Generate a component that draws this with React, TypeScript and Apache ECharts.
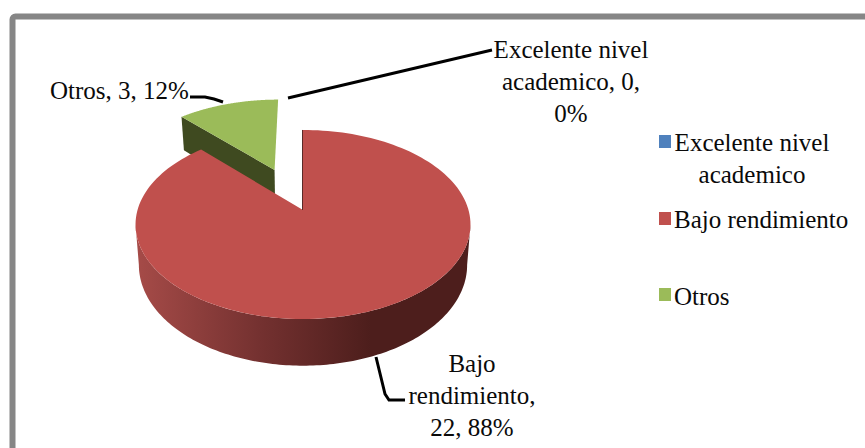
import React, { useEffect, useRef } from "react";
import * as echarts from "echarts";

const categories = ["Excelente nivel academico", "Bajo rendimiento", "Otros"];
const values = [0, 22, 3];
const colors = ["#4f81bd", "#c0504d", "#9bbb59"];
const sideColors = ["#2f4d71", "#5a2a28", "#3f4a20"];
const explode = [0, 0, 0.5];
const labelTexts = ["Excelente nivel\nacademico, 0,\n0%", "Bajo\nrendimiento,\n22, 88%", "Otros, 3, 12%"];
const legendTexts = ["Excelente nivel\nacademico", "Bajo rendimiento", "Otros"];

const FONT = '"Liberation Serif", "Times New Roman", serif';
const CX = 303;
const CY = 210;
const RX = 165.5;
const RY = 92.3;
const K = 0.1534;
const DEPTH = 39.5;
const BOTTOM_SCALE = 0.98;

type P = [number, number];

// perspective projection of the pie's disc (u right, v away from the viewer)
function topPoint(u: number, v: number): P {
  const w = 1 + K * v;
  return [CX + (RX * u) / w, CY - (RY * v) / w];
}
function bottomPoint(u: number, v: number): P {
  const w = 1 + K * v;
  return [CX + (BOTTOM_SCALE * RX * u) / w, CY - (RY * v) / w + DEPTH / w];
}

const total = values.reduce((a, b) => a + b, 0);
const TAU = Math.PI * 2;

function sliceAngles(i: number): [number, number] {
  let start = 0;
  for (let k = 0; k < i; k++) start += values[k];
  return [(start / total) * TAU, ((start + values[i]) / total) * TAU];
}

function renderSlice(params: any) {
  const i = params.dataIndex;
  if (!values[i]) return { type: "group", children: [] };
  const [a0, a1] = sliceAngles(i);
  const mid = (a0 + a1) / 2;
  const ou = explode[i] * Math.sin(mid);
  const ov = explode[i] * Math.cos(mid);
  const disc = (a: number): P => [ou + Math.sin(a), ov + Math.cos(a)];
  const STEPS = 160;
  const rim: P[] = [];
  for (let s = 0; s <= STEPS; s++) {
    const d = disc(a0 + ((a1 - a0) * s) / STEPS);
    rim.push(topPoint(d[0], d[1]));
  }
  const top: P[] = [topPoint(ou, ov), ...rim];
  const base = i === 1 ? 3 : 0;
  const children: any[] = [];
  const frontStart = Math.acos(-K);
  const frontEnd = TAU - frontStart;
  const fs = Math.max(a0, frontStart);
  const fe = Math.min(a1, frontEnd);
  if (fe > fs) {
    const upper: P[] = [];
    const lower: P[] = [];
    for (let s = 0; s <= STEPS; s++) {
      const a = fs + ((fe - fs) * s) / STEPS;
      const d = disc(a);
      upper.push(topPoint(d[0], d[1]));
      lower.unshift(bottomPoint(d[0], d[1]));
    }
    children.push({
      type: "polygon",
      z2: base + 1,
      shape: { points: [...upper, ...lower] },
      style: {
        fill: new echarts.graphic.LinearGradient(
          136, 0, 471, 0,
          [
            { offset: 0, color: "#a64b48" },
            { offset: 0.37, color: "#743130" },
            { offset: 0.7, color: "#4d1e1c" },
            { offset: 1, color: "#4d1e1c" },
          ],
          true
        ),
      },
    });
  }
  if (i === 1) {
    // cut face at the start of the slice, seen almost edge on
    const e = disc(a0);
    children.push({
      type: "line",
      z2: base + 3,
      shape: {
        x1: topPoint(ou, ov)[0] - 0.5,
        y1: topPoint(ou, ov)[1],
        x2: topPoint(e[0], e[1])[0] - 0.5,
        y2: topPoint(e[0], e[1])[1],
      },
      style: { stroke: sideColors[i], lineWidth: 1 },
    });
  } else {
    // cut face at the end of the slice, facing the viewer
    const e = disc(a0);
    const q0 = topPoint(ou, ov);
    const q1 = topPoint(e[0], e[1]);
    const q2 = bottomPoint(e[0], e[1]);
    const q3 = bottomPoint(ou, ov);
    children.push({
      type: "polygon",
      z2: base + 1,
      shape: { points: [q0, q1, q2, q3] },
      style: { fill: sideColors[i] },
    });
  }
  children.push({
    type: "polygon",
    z2: base + 2,
    shape: { points: top },
    style: { fill: colors[i] },
  });
  return { type: "group", children };
}

const labelPos: { x: number; y: number; align: string }[] = [
  { x: 571, y: 33, align: "center" },
  { x: 472, y: 347, align: "center" },
  { x: 50, y: 74, align: "left" },
];
const leaders: P[][] = [
  [[288, 98], [492, 50]],
  [[376, 357], [385, 394], [389, 400], [405, 400]],
  [[190, 97], [205, 97], [214, 99], [223, 102]],
];
const legendY = [135, 212, 288];

export default function App() {
  const ref = useRef<HTMLDivElement>(null);
  useEffect(() => {
    document.body.style.margin = "0";
    const chart = echarts.init(ref.current!, null, { renderer: "svg" });
    const graphics: any[] = [
      {
        type: "rect",
        z: 0,
        shape: { x: 12.5, y: 16.5, width: 900, height: 500, r: 3 },
        style: { fill: "#ffffff", stroke: "#868686", lineWidth: 6 },
      },
    ];
    labelTexts.forEach((t, i) => {
      graphics.push({
        type: "text",
        z: 5,
        x: labelPos[i].x,
        y: labelPos[i].y,
        style: {
          text: t,
          font: `25px ${FONT}`,
          lineHeight: 32,
          textAlign: labelPos[i].align,
          fill: "#0a0a0a",
        },
      });
      graphics.push({
        type: "polyline",
        z: 5,
        shape: { points: leaders[i] },
        style: { stroke: "#000000", lineWidth: 3, fill: "none" },
      });
    });
    legendTexts.forEach((t, i) => {
      graphics.push({
        type: "rect",
        z: 5,
        shape: { x: 659, y: legendY[i], width: 12, height: 13 },
        style: { fill: colors[i] },
      });
      graphics.push({
        type: "text",
        z: 5,
        x: i === 0 ? 752 : 674,
        y: legendY[i] - 9 + (i === 2 ? 1 : 0),
        style: {
          text: t,
          font: `25px ${FONT}`,
          lineHeight: 32,
          textAlign: i === 0 ? "center" : "left",
          fill: "#0a0a0a",
        },
      });
    });
    chart.setOption({
      animation: false,
      backgroundColor: "#ffffff",
      graphic: { elements: graphics },
      series: [
        {
          type: "custom",
          coordinateSystem: "none",
          renderItem: renderSlice,
          silent: true,
          z: 3,
          data: categories.map((name, i) => ({ name, value: values[i] })),
        },
      ],
    });
    return () => chart.dispose();
  }, []);
  return <div ref={ref} style={{ width: 865, height: 448, overflow: "hidden" }} />;
}
